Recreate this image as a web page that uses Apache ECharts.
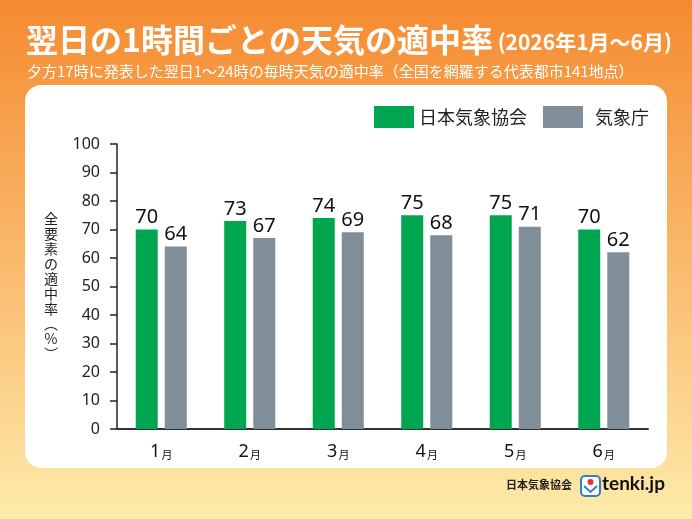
<!DOCTYPE html>
<html>
<head>
<meta charset="utf-8">
<script src="https://cdn.jsdelivr.net/npm/echarts@6/dist/echarts.min.js"></script>
<style>
html,body{margin:0;padding:0;background:#fff;}
#main{width:692px;height:519px;}
</style>
</head>
<body>
<div id="main"></div>
<script>
// ---- data ----
const months = ['1', '2', '3', '4', '5', '6'];
const jwaValues = [70, 73, 74, 75, 75, 70];   // 日本気象協会
const jmaValues = [64, 67, 69, 68, 71, 62];   // 気象庁
const seriesNames = ['日本気象協会', '気象庁'];
const yTicks = [0, 10, 20, 30, 40, 50, 60, 70, 80, 90, 100];

const FONT = '"Noto Sans CJK JP", "Noto Sans", sans-serif';
const NUM_FONT = '"Noto Sans", "Open Sans", sans-serif';
const chart = echarts.init(document.getElementById('main'), null, {renderer: 'canvas'});

const option = {
  animation: false,
  backgroundColor: new echarts.graphic.LinearGradient(0, 0, 0, 1, [
    {offset: 0, color: '#F58B30'},
    {offset: 0.45, color: '#F9B466'},
    {offset: 1, color: '#FEEBAA'}
  ]),
  textStyle: {fontFamily: FONT},
  title: [
    {
      left: 21, top: 15,
      text: '{a|翌日の1時間ごとの天気の適中率}{b| (2026年1月〜6月)}',
      textStyle: {
        rich: {
          a: {fontSize: 32, fontWeight: 'bold', color: '#fff', fontFamily: FONT, lineHeight: 40},
          b: {fontSize: 21, fontWeight: 'bold', color: '#fff', fontFamily: FONT, lineHeight: 40, padding: [4, 0, 0, 0]}
        }
      }
    },
    {
      left: 22, top: 56,
      text: '夕方17時に発表した翌日1～24時の毎時天気の適中率（全国を網羅する代表都市141地点）',
      textStyle: {fontSize: 15, fontWeight: 'normal', color: '#fff', fontFamily: FONT, lineHeight: 20}
    }
  ],
  graphic: [
    {
      type: 'rect', z: -10, silent: true,
      shape: {x: 25, y: 85, width: 642, height: 383, r: 16},
      style: {fill: '#ffffff'}
    },
    {
      type: 'text', left: 506, top: 479, silent: true,
      style: {text: '日本気象協会', fontSize: 11, fontWeight: 'bold', fill: '#222', fontFamily: FONT}
    },
    {
      type: 'group', left: 580, top: 475, silent: true,
      children: [
        {type: 'rect', shape: {x: 0, y: 0, width: 19, height: 20, r: 4}, style: {fill: '#fff', stroke: '#2E7FD0', lineWidth: 2}},
        {type: 'circle', shape: {cx: 9.5, cy: 6, r: 3}, style: {fill: '#E8332E'}},
        {type: 'polyline', shape: {points: [[3, 10], [9.5, 16], [16, 10]]}, style: {stroke: '#2E7FD0', lineWidth: 2, fill: null}}
      ]
    },
    {
      type: 'text', left: 602, top: 474, silent: true,
      style: {text: 'tenki.jp', fontSize: 19, fontWeight: 'bold', fill: '#111', fontFamily: 'Lato, "Open Sans", sans-serif'}
    }
  ],
  legend: {
    left: 369, top: 101,
    itemWidth: 40, itemHeight: 22, itemGap: 16,
    icon: 'rect',
    textStyle: {fontSize: 18, color: '#222', fontFamily: FONT},
    data: [
      {name: seriesNames[0]},
      {name: seriesNames[1], textStyle: {padding: [0, 0, 0, 7]}}
    ]
  },
  grid: {left: 117, width: 531, top: 144, bottom: 90, containLabel: false},
  xAxis: {
    type: 'category',
    data: months,
    axisLine: {lineStyle: {color: '#333', width: 2}},
    axisTick: {show: false},
    axisLabel: {
      margin: 14,
      formatter: v => '{n|' + v + '}{m|月}',
      rich: {
        n: {fontSize: 18, color: '#111', fontFamily: NUM_FONT},
        m: {fontSize: 11, color: '#111', fontFamily: FONT, padding: [5, 0, 0, 1]}
      }
    }
  },
  yAxis: {
    type: 'value',
    min: yTicks[0], max: yTicks[yTicks.length - 1], interval: yTicks[1] - yTicks[0],
    name: '全\n要\n素\nの\n適\n中\n率\n︵\n%\n︶',
    nameLocation: 'middle',
    nameRotate: 0,
    nameGap: 66,
    nameTextStyle: {fontSize: 14, lineHeight: 15, color: '#222', align: 'center', verticalAlign: 'middle', fontFamily: FONT},
    axisLine: {show: true, lineStyle: {color: '#222', width: 1.5}},
    axisTick: {show: true, length: 7, lineStyle: {color: '#222', width: 1.5}},
    axisLabel: {margin: 17, fontSize: 16, color: '#222', fontFamily: NUM_FONT},
    splitLine: {show: false}
  },
  series: [
    {
      name: seriesNames[0], type: 'bar', data: jwaValues,
      barWidth: 22, barGap: '32%',
      itemStyle: {color: '#00A54F'},
      label: {show: true, position: 'top', distance: 2, fontSize: 20, color: '#111', fontFamily: NUM_FONT}
    },
    {
      name: seriesNames[1], type: 'bar', data: jmaValues,
      barWidth: 22, barGap: '32%',
      itemStyle: {color: '#7F8E98'},
      label: {show: true, position: 'top', distance: 2, fontSize: 20, color: '#111', fontFamily: NUM_FONT}
    }
  ]
};
chart.setOption(option);
</script>
</body>
</html>
